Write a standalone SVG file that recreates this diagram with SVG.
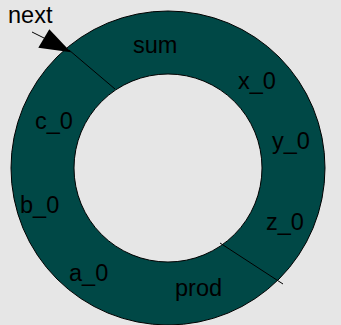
<svg xmlns="http://www.w3.org/2000/svg" width="341" height="325" viewBox="0 0 341 325">
<style>
.t{font-family:"Liberation Sans",Arial,sans-serif;font-size:23.5px;fill:#000}
.ln{stroke:#000;stroke-width:1;fill:none}
</style>
<rect width="341" height="325" fill="#e6e6e6"/>
<g id="ring">
<path d="M11,168 A157,157 0 1,0 325,168 A157,157 0 1,0 11,168 Z M74,168 A94,94 0 1,1 262,168 A94,94 0 1,1 74,168 Z" fill="#004846" fill-rule="evenodd" stroke="#000" stroke-width="1"/>
</g>
<g id="connectors">
<line class="ln" x1="69" y1="50" x2="115" y2="89"/>
<line class="ln" x1="220" y1="243" x2="283" y2="284"/>
<line class="ln" x1="32" y1="32" x2="60" y2="46"/>
<polygon points="38.3,47.7 49.3,29.3 71,52.3" fill="#000"/>
</g>
<g id="labels">
<text class="t" x="8" y="23">next</text>
<text class="t" x="133" y="53">sum</text>
<text class="t" x="238" y="89">x_0</text>
<text class="t" x="272" y="149">y_0</text>
<text class="t" x="266" y="230">z_0</text>
<text class="t" x="175" y="296">prod</text>
<text class="t" x="69" y="281">a_0</text>
<text class="t" x="20" y="213">b_0</text>
<text class="t" x="35" y="129">c_0</text>
</g>
</svg>
